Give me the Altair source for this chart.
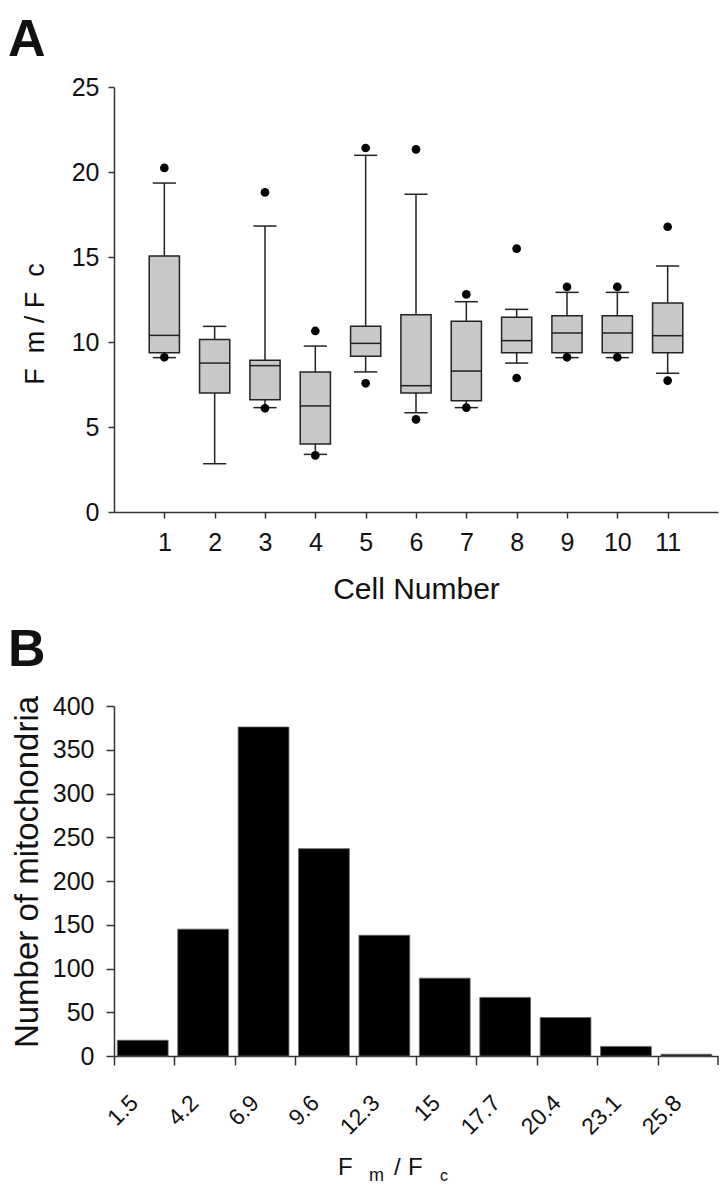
import altair as alt
import pandas as pd

FONT = "Liberation Sans"

# ---------------- Panel A: box plots per cell ----------------
cells = [1, 2, 3, 4, 5, 6, 7, 8, 9, 10, 11]
whisker_low = [9.08, 2.84, 6.14, 3.39, 8.24, 5.84, 6.14, 8.76, 9.08, 9.08, 8.16]
q1 = [9.37, 7.00, 6.61, 4.00, 9.16, 7.00, 6.55, 9.37, 9.37, 9.37, 9.37]
median = [10.39, 8.76, 8.61, 6.24, 9.92, 7.43, 8.29, 10.08, 10.53, 10.53, 10.37]
q3 = [15.06, 10.14, 8.92, 8.24, 10.92, 11.61, 11.22, 11.45, 11.55, 11.55, 12.29]
whisker_high = [19.35, 10.92, 16.82, 9.76, 20.98, 18.69, 12.37, 11.92, 12.92, 12.92, 14.47]
outlier_low = [9.10, None, 6.10, 3.33, 7.57, 5.45, 6.14, 7.88, 9.10, 9.10, 7.73]
outlier_high = [20.24, None, 18.80, 10.65, 21.41, 21.33, 12.80, 15.49, 13.24, 13.24, 16.78]
y_ticks_a = [0, 5, 10, 15, 20, 25]

# ---------------- Panel B: histogram ----------------
bin_starts = [1.5, 4.2, 6.9, 9.6, 12.3, 15, 17.7, 20.4, 23.1, 25.8]
counts = [18, 145, 376, 237, 138, 89, 67, 44, 11, 2]
bin_width = 2.7
y_ticks_b = [0, 50, 100, 150, 200, 250, 300, 350, 400]

box_df = pd.DataFrame(dict(cell=cells, lo=whisker_low, q1=q1, med=median,
                           q3=q3, hi=whisker_high))
out_rows = []
for c, a, b in zip(cells, outlier_low, outlier_high):
    for v in (a, b):
        if v is not None:
            out_rows.append({"cell": c, "value": v})
out_df = pd.DataFrame(out_rows)

hist_df = pd.DataFrame(dict(start=bin_starts, count=counts))
x_end_b = bin_starts[-1] + bin_width

DARK = "#222222"
one = pd.DataFrame({"k": [0]})


def label(txt, px, py, fs, weight="normal", angle=0, align="left", baseline="alphabetic"):
    return alt.Chart(one).mark_text(text=txt, font=FONT, fontSize=fs, fontWeight=weight,
                                    angle=angle, align=align, baseline=baseline,
                                    color="#111").encode(x=alt.value(px), y=alt.value(py))


axis_xa = alt.Axis(values=cells, title="Cell Number", tickSize=6, labelPadding=12,
                   titlePadding=19, grid=False)
axis_ya = alt.Axis(values=y_ticks_a, title=None, tickSize=6, labelPadding=9, grid=False)
scale_xa = alt.Scale(domain=[0, 12], nice=False, zero=False)
scale_ya = alt.Scale(domain=[0, 25], nice=False)


def XA(field):
    return alt.X(f"{field}:Q", scale=scale_xa, axis=axis_xa, title="Cell Number")


def YA(field):
    return alt.Y(f"{field}:Q", scale=scale_ya, axis=axis_ya, title=None)


base_a = alt.Chart(box_df).transform_calculate(
    cap_l="datum.cell - 0.23", cap_r="datum.cell + 0.23",
    box_l="datum.cell - 0.3", box_r="datum.cell + 0.3")

whisk = base_a.mark_rule(color=DARK, strokeWidth=1.5).encode(
    x=XA("cell"), y=YA("lo"), y2="hi:Q")
cap_lo = base_a.mark_rule(color=DARK, strokeWidth=1.5).encode(
    x=XA("cap_l"), x2="cap_r:Q", y=YA("lo"))
cap_hi = base_a.mark_rule(color=DARK, strokeWidth=1.5).encode(
    x=XA("cap_l"), x2="cap_r:Q", y=YA("hi"))
box = base_a.mark_rect(fill="#c8c8c8", stroke=DARK, strokeWidth=1.5).encode(
    x=XA("box_l"), x2="box_r:Q", y=YA("q1"), y2="q3:Q")
med = base_a.mark_rule(color=DARK, strokeWidth=1.5).encode(
    x=XA("box_l"), x2="box_r:Q", y=YA("med"))
outl = alt.Chart(out_df).mark_circle(size=75, color="black", opacity=1).encode(
    x=XA("cell"), y=YA("value"))

chart_a = alt.layer(
    whisk, cap_lo, cap_hi, box, med, outl,
    label("A", -106, -31, 52, weight="bold"),
    label("F\u00a0\u00a0m / F\u00a0\u00a0c", -70, 237, 27, angle=270, align="center"),
).properties(width=604, height=425)

# ---------------- Panel B ----------------
axis_xb = alt.Axis(values=bin_starts, title=None, tickSize=9, labelAngle=-45,
                   labelAlign="right", labelBaseline="middle", labelOffset=20,
                   labelFontSize=23, labelPadding=34, grid=False,
                   labelExpr="format(datum.value, '.3~g')")
axis_yb = alt.Axis(values=y_ticks_b, title=None, tickSize=8, labelPadding=12, grid=False)
scale_xb = alt.Scale(domain=[bin_starts[0], x_end_b], nice=False, zero=False)
scale_yb = alt.Scale(domain=[0, 400], nice=False)

bars = alt.Chart(hist_df).transform_calculate(
    x0="datum.start + 0.15", x1=f"datum.start + {bin_width} - 0.28", zero="0"
).mark_rect(fill="black", stroke="#666666", strokeWidth=0.8).encode(
    x=alt.X("x0:Q", scale=scale_xb, axis=axis_xb, title=None),
    x2="x1:Q",
    y=alt.Y("count:Q", scale=scale_yb, axis=axis_yb, title=None),
    y2="zero:Q")

end_tick = alt.Chart(one).mark_rule(color="#333", strokeWidth=1.5).encode(
    x=alt.datum(x_end_b, scale=scale_xb), y=alt.value(350), y2=alt.value(359))

chart_b = alt.layer(
    bars, end_tick,
    label("F", 224, 469, 24), label("m", 255, 475, 18), label("/", 280, 469, 24),
    label("F", 294, 469, 24), label("c", 326, 475, 16),
    label("B", -106, -40, 52, weight="bold"),
    label("Number of mitochondria", -76, 166, 33, angle=270, align="center"),
).properties(width=604, height=350)

chart = alt.vconcat(chart_a, chart_b, spacing=20).properties(
    padding={"top": 6, "left": 0, "right": 0, "bottom": 0}
).configure_view(stroke=None).configure_axis(
    labelFont=FONT, titleFont=FONT, labelFontSize=25, titleFontSize=30,
    titleFontWeight="normal", labelColor="#111", titleColor="#111",
    domainColor="#333", tickColor="#333", domainWidth=1.5, tickWidth=1.5
)

chart.save("out.html", embed_options={"renderer": "svg", "actions": False})
